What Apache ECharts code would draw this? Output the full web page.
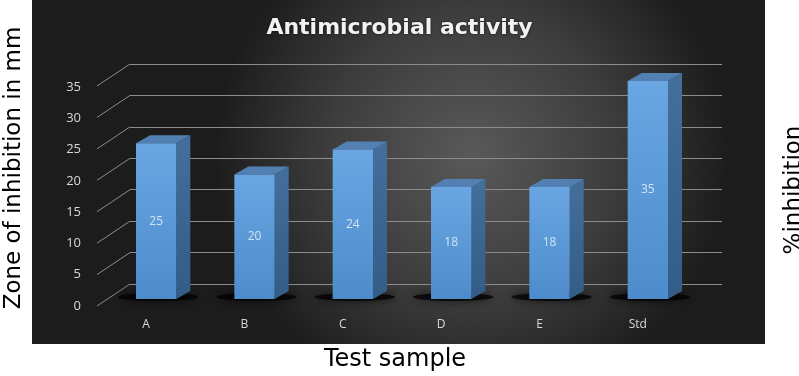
<!DOCTYPE html>
<html>
<head>
<meta charset="utf-8">
<script src="https://cdn.jsdelivr.net/npm/echarts@6/dist/echarts.min.js"></script>
<style>
  html, body { margin: 0; padding: 0; background: #fff; }
  #chart { width: 799px; height: 376px; }
</style>
</head>
<body>
<div id="chart"></div>
<script>
// chart data
var categories = ['A', 'B', 'C', 'D', 'E', 'Std'];
var zoneValues = [25, 20, 24, 18, 18, 35];
var yTicks = [0, 5, 10, 15, 20, 25, 30, 35];

var chart = echarts.init(document.getElementById('chart'));

// depth of the fake 3D box (pixels)
var DX = 14, DY = 8;

function renderBar(params, api) {
    var idx = api.value(0);
    var val = api.value(1);
    var base = api.coord([idx, 0]);
    var top = api.coord([idx, val]);
    var w = api.size([1, 0])[0] * 0.41;
    var x0 = base[0] - w / 2, x1 = base[0] + w / 2;
    var yb = base[1], yt = top[1];
    return {
        type: 'group',
        children: [
            {
                type: 'ellipse',
                shape: { cx: base[0] + 2, cy: yb - 2, rx: w / 2 + 20, ry: 4 },
                style: { fill: 'rgba(0,0,0,0.75)', shadowBlur: 10, shadowColor: 'rgba(0,0,0,0.9)' }
            },
            {
                type: 'polygon',
                shape: { points: [[x1, yt], [x1 + DX, yt - DY], [x1 + DX, yb - DY], [x1, yb]] },
                style: {
                    fill: new echarts.graphic.LinearGradient(0, 0, 0, 1, [
                        { offset: 0, color: '#446f9c' },
                        { offset: 1, color: '#335c87' }
                    ])
                }
            },
            {
                type: 'polygon',
                shape: { points: [[x0, yt], [x0 + DX, yt - DY], [x1 + DX, yt - DY], [x1, yt]] },
                style: { fill: '#5280b3' }
            },
            {
                type: 'rect',
                shape: { x: x0, y: yt, width: w, height: yb - yt },
                style: {
                    fill: new echarts.graphic.LinearGradient(0, 0, 0, 1, [
                        { offset: 0, color: '#69a6e2' },
                        { offset: 1, color: '#4d8bcc' }
                    ])
                }
            },
            {
                type: 'text',
                style: {
                    text: String(val),
                    x: base[0], y: (yt + yb) / 2,
                    align: 'center', verticalAlign: 'middle',
                    fill: '#d5e4f4', font: '12px "Open Sans"'
                }
            }
        ]
    };
}

function renderWallLine(params, api) {
    var p = api.coord([0, api.value(0)]);
    return {
        type: 'line',
        shape: { x1: p[0] - 33, y1: p[1] + 22, x2: p[0], y2: p[1] },
        style: { stroke: '#8c8c8c', lineWidth: 1 }
    };
}

var option = {
    animation: false,
    graphic: [
        {
            type: 'rect', z: -10,
            shape: { x: 32, y: 0, width: 733, height: 344 },
            style: {
                fill: new echarts.graphic.RadialGradient(0.6, 0.45, 0.75, [
                    { offset: 0, color: '#595959' },
                    { offset: 0.55, color: '#3d3d3d' },
                    { offset: 1, color: '#1c1c1c' }
                ])
            }
        },
        {
            type: 'text', rotation: Math.PI / 2,
            x: 14, y: 168,
            style: { text: 'Zone of inhibition in mm', fill: '#000', font: '23px "DejaVu Sans"', align: 'center', verticalAlign: 'middle' }
        },
        {
            type: 'text', rotation: Math.PI / 2,
            x: 794, y: 190,
            style: { text: '%inhibition', fill: '#000', font: '23px "DejaVu Sans"', align: 'center', verticalAlign: 'middle' }
        },
        {
            type: 'text',
            x: 395, y: 360,
            style: { text: 'Test sample', fill: '#000', font: '24px "DejaVu Sans"', align: 'center', verticalAlign: 'middle' }
        }
    ],
    title: {
        text: 'Antimicrobial activity',
        left: 'center',
        top: 12,
        textStyle: {
            color: '#f2f2f2',
            fontFamily: 'DejaVu Sans',
            fontWeight: 'bold',
            fontSize: 22,
            textShadowColor: 'rgba(0,0,0,0.6)',
            textShadowBlur: 3
        }
    },
    grid: [
        { left: 107, top: 81, width: 590, height: 218 },
        { left: 130, top: 64, width: 592, height: 220 },
        { left: 97, top: 87, width: 10, height: 219 }
    ],
    xAxis: [
        {
            gridIndex: 0, type: 'category', data: categories,
            axisLine: { show: false }, axisTick: { show: false },
            axisLabel: { color: '#d9d9d9', fontSize: 12, fontFamily: 'Open Sans', margin: 20, padding: [0, 20, 0, 0] }
        },
        { gridIndex: 1, type: 'value', min: 0, max: 1, show: false },
        { gridIndex: 2, type: 'value', min: 0, max: 1, show: false }
    ],
    yAxis: [
        { gridIndex: 0, type: 'value', min: 0, max: 35, interval: 5, show: false },
        {
            gridIndex: 1, type: 'value', min: 0, max: 35, interval: 5,
            axisLine: { show: false }, axisTick: { show: false }, axisLabel: { show: false },
            splitLine: { lineStyle: { color: '#8c8c8c', width: 1 } }
        },
        {
            gridIndex: 2, type: 'value', min: 0, max: 35, interval: 5,
            axisLine: { show: false }, axisTick: { show: false }, splitLine: { show: false },
            axisLabel: { color: '#d9d9d9', fontSize: 13, fontFamily: 'Open Sans', margin: 16 }
        }
    ],
    series: [
        {
            type: 'custom', xAxisIndex: 1, yAxisIndex: 1,
            renderItem: renderWallLine,
            data: yTicks.map(function (t) { return [t]; }),
            encode: { y: 0 }
        },
        {
            type: 'custom', xAxisIndex: 0, yAxisIndex: 0,
            renderItem: renderBar,
            data: zoneValues.map(function (v, i) { return [i, v]; }),
            encode: { x: 0, y: 1 }
        }
    ]
};

chart.setOption(option);
</script>
</body>
</html>
